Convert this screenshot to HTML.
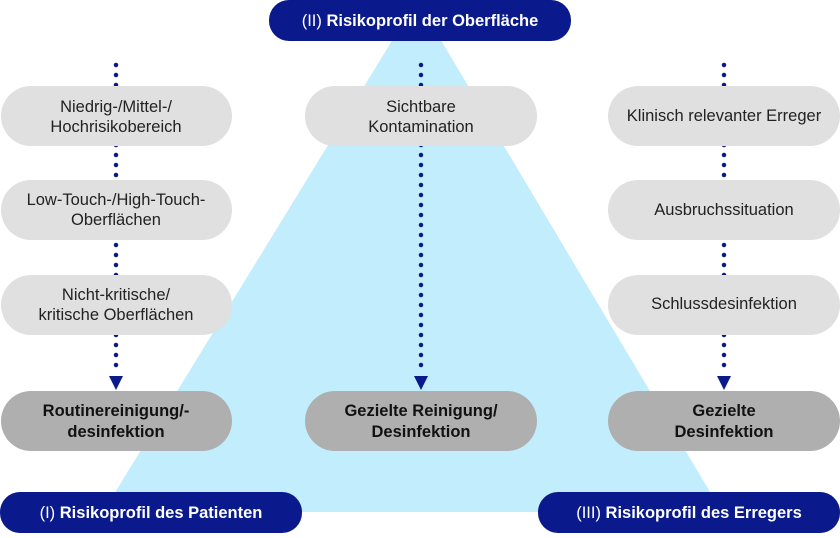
<!DOCTYPE html>
<html><head><meta charset="utf-8"><style>
html,body{margin:0;padding:0;background:#fff}
svg text{font-family:"Liberation Sans",sans-serif}
</style></head><body>
<svg width="840" height="533" viewBox="0 0 840 533" xmlns="http://www.w3.org/2000/svg">
<polygon points="417,0 722,512 103,512" fill="#c2edfc"/>
<g stroke="#0a1a8c" stroke-width="4.5" stroke-linecap="round" stroke-dasharray="0 10">
<line x1="116" y1="65" x2="116" y2="372"/>
<line x1="421" y1="65" x2="421" y2="372"/>
<line x1="724" y1="65" x2="724" y2="372"/>
</g>
<g fill="#0a1a8c">
<polygon points="109,376 123,376 116,390"/>
<polygon points="414,376 428,376 421,390"/>
<polygon points="717,376 731,376 724,390"/>
</g>
<g fill="#e0e0e0">
<rect x="1" y="86" width="231" height="60" rx="30"/>
<rect x="1" y="180" width="231" height="60" rx="30"/>
<rect x="1" y="275" width="231" height="60" rx="30"/>
<rect x="305" y="86" width="232" height="60" rx="30"/>
<rect x="608" y="86" width="232" height="60" rx="30"/>
<rect x="608" y="180" width="232" height="60" rx="30"/>
<rect x="608" y="275" width="232" height="60" rx="30"/>
</g>
<g fill="#afafaf">
<rect x="1" y="391" width="231" height="60" rx="30"/>
<rect x="305" y="391" width="232" height="60" rx="30"/>
<rect x="608" y="391" width="232" height="60" rx="30"/>
</g>
<g fill="#0a1a8c">
<rect x="269" y="0" width="302" height="41" rx="20"/>
<rect x="0" y="492" width="302" height="41" rx="20"/>
<rect x="538" y="492" width="302" height="41" rx="20"/>
</g>
<g font-size="16.5" fill="#222" text-anchor="middle">
<text x="116" y="112">Niedrig-/Mittel-/</text>
<text x="116" y="132">Hochrisikobereich</text>
<text x="116" y="205">Low-Touch-/High-Touch-</text>
<text x="116" y="225">Oberflächen</text>
<text x="116" y="300">Nicht-kritische/</text>
<text x="116" y="320">kritische Oberflächen</text>
<text x="421" y="112">Sichtbare</text>
<text x="421" y="132">Kontamination</text>
<text x="724" y="121">Klinisch relevanter Erreger</text>
<text x="724" y="215">Ausbruchssituation</text>
<text x="724" y="309">Schlussdesinfektion</text>
</g>
<g font-size="16.5" font-weight="bold" fill="#111" text-anchor="middle">
<text x="116" y="416">Routinereinigung/-</text>
<text x="116" y="437">desinfektion</text>
<text x="421" y="416">Gezielte Reinigung/</text>
<text x="421" y="437">Desinfektion</text>
<text x="724" y="416">Gezielte</text>
<text x="724" y="437">Desinfektion</text>
</g>
<g font-size="16.5" fill="#fff" text-anchor="middle">
<text x="420" y="26">(II) <tspan font-weight="bold">Risikoprofil der Oberfläche</tspan></text>
<text x="151" y="518">(I) <tspan font-weight="bold">Risikoprofil des Patienten</tspan></text>
<text x="689" y="518">(III) <tspan font-weight="bold">Risikoprofil des Erregers</tspan></text>
</g>
</svg>
</body></html>
